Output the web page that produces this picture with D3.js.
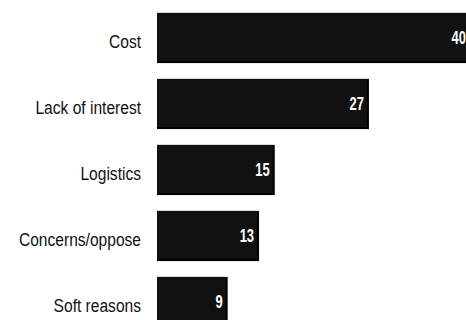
<!DOCTYPE html>
<html>
<head>
<meta charset="utf-8">
<script src="https://d3js.org/d3.v7.min.js"></script>
<style>
  body { margin: 0; background: #fff; }
  svg { display: block; }
</style>
</head>
<body>
<svg width="466" height="320"></svg>
<script>
    const categories = ["Cost", "Lack of interest", "Logistics", "Concerns/oppose", "Soft reasons"];
    const values = [40, 27, 15, 13, 9];

    const svg = d3.select("svg");
    // no narrow font installed, so squeeze Liberation Sans horizontally
    const font = "'Liberation Sans', Arial, sans-serif";

    const x = d3.scaleLinear()
        .domain([0, 10])
        .range([157, 235.5]);

    const y = d3.scaleBand()
        .domain(categories)
        .range([5, 335])
        .paddingInner(0.24)
        .paddingOuter(0.12);

    const rows = svg.selectAll("g.row")
        .data(categories)
        .enter().append("g")
        .attr("class", "row");

    // dark edge on right / bottom
    rows.append("rect")
        .attr("x", x(0))
        .attr("y", d => y(d))
        .attr("width", (d, i) => x(values[i]) - x(0))
        .attr("height", y.bandwidth())
        .attr("fill", "#000");

    rows.append("rect")
        .attr("x", x(0))
        .attr("y", d => y(d))
        .attr("width", (d, i) => x(values[i]) - x(0) - 2)
        .attr("height", y.bandwidth() - 2)
        .attr("fill", "#111");

    rows.append("text")
        .attr("transform", d => "translate(" + (x(0) - 16) + "," + (y(d) + y.bandwidth() / 2 + 3) + ") scale(0.82,1)")
        .attr("dy", "0.35em")
        .attr("text-anchor", "end")
        .attr("font-family", font)
        .attr("font-size", "19px")
        .attr("fill", "#111")
        .text(d => d);

    rows.append("text")
        .attr("transform", (d, i) => "translate(" + Math.min(x(values[i]) - 5, 466) + "," + (y(d) + y.bandwidth() / 2) + ") scale(0.72,1)")
        .attr("dy", "0.35em")
        .attr("text-anchor", "end")
        .attr("font-family", font)
        .attr("font-weight", "bold")
        .attr("font-size", "18px")
        .attr("fill", "#fff")
        .text((d, i) => values[i]);
</script>
</body>
</html>
